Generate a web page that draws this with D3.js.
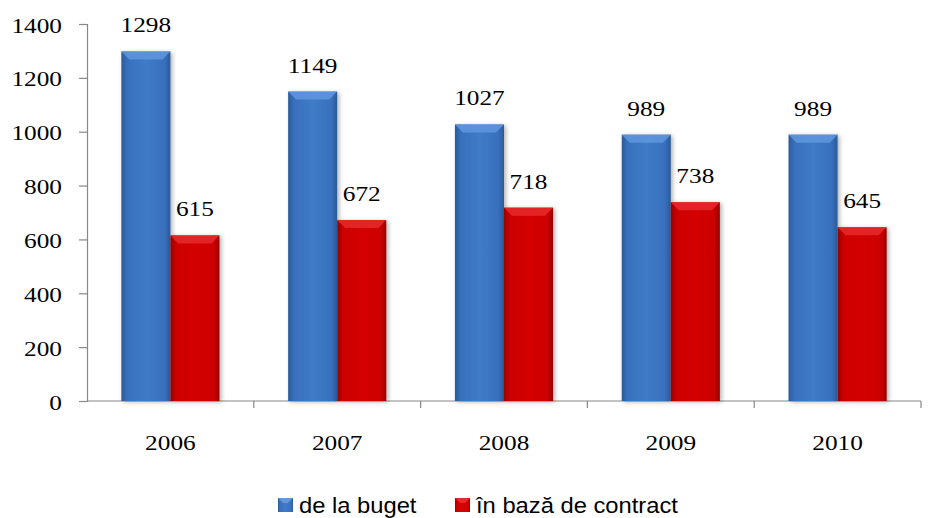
<!DOCTYPE html>
<html lang="en">
<head>
<meta charset="UTF-8">
<title>Chart</title>
<script src="https://cdn.jsdelivr.net/npm/d3@7"></script>
<style>
    body { margin: 0; background: #fff; }
</style>
</head>
<body>
<div id="chart"></div>
<script>
    // data
    const years = ['2006', '2007', '2008', '2009', '2010'];
    const series = ['de la buget', 'în bază de contract'];
    const budget = [1298, 1149, 1027, 989, 989];
    const contract = [615, 672, 718, 738, 645];
    const yTicks = [0, 200, 400, 600, 800, 1000, 1200, 1400];

    const width = 928, height = 518;
    const margin = {top: 24, right: 7, bottom: 117, left: 87};
    const serif = '"Liberation Serif", "Times New Roman", serif';
    const sans = '"Liberation Sans", Arial, sans-serif';

    const svg = d3.select('#chart').append('svg')
        .attr('width', width)
        .attr('height', height);

    const defs = svg.append('defs');
    const palettes = [
        {id: 'gBlue', dark: '#2b5a98', mid: '#3870bd', light: '#3f7bc8', top: '#5f98de'},
        {id: 'gRed', dark: '#980000', mid: '#cc0000', light: '#d40404', top: '#e62a2a'}
    ];
    palettes.forEach(p => {
        const g = defs.append('linearGradient').attr('id', p.id)
            .attr('x1', 0).attr('x2', 1).attr('y1', 0).attr('y2', 0);
        g.append('stop').attr('offset', '0%').attr('stop-color', p.dark);
        g.append('stop').attr('offset', '12%').attr('stop-color', p.mid);
        g.append('stop').attr('offset', '50%').attr('stop-color', p.light);
        g.append('stop').attr('offset', '88%').attr('stop-color', p.mid);
        g.append('stop').attr('offset', '100%').attr('stop-color', p.dark);
    });
    const shadow = defs.append('filter').attr('id', 'shadow')
        .attr('x', '-20%').attr('y', '-5%').attr('width', '140%').attr('height', '115%');
    shadow.append('feDropShadow').attr('dx', 2).attr('dy', 1).attr('stdDeviation', 2)
        .attr('flood-color', '#000').attr('flood-opacity', 0.3);

    const x0 = d3.scaleBand()
        .domain(years)
        .range([margin.left, width - margin.right])
        .paddingInner(0)
        .paddingOuter(0);

    const x1 = d3.scaleBand()
        .domain(series)
        .range([0, x0.bandwidth()])
        .paddingOuter(0.7)
        .paddingInner(0);

    const y = d3.scaleLinear()
        .domain([0, 1400])
        .range([height - margin.bottom, margin.top]);

    // the original text looks stretched a bit sideways
    const stretch = 1.15;

    // y axis
    const yAxis = svg.append('g')
        .attr('transform', `translate(${margin.left},0)`)
        .call(d3.axisLeft(y).tickValues(yTicks).tickFormat(d3.format('d')).tickSize(8));
    yAxis.attr('font-family', serif).attr('font-size', 22);
    yAxis.select('.domain').attr('stroke', '#888').attr('stroke-width', 1.2);
    yAxis.selectAll('.tick line').attr('stroke', '#888').attr('stroke-width', 1.2);
    yAxis.selectAll('.tick text')
        .attr('fill', '#000')
        .attr('x', null).attr('dy', null)
        .attr('transform', `translate(-25,8) scale(${stretch},1)`);

    // x axis with ticks at category boundaries
    const xAxis = svg.append('g')
        .attr('transform', `translate(0,${y(0)})`);
    xAxis.append('line')
        .attr('x1', margin.left).attr('x2', width - margin.right)
        .attr('stroke', '#888').attr('stroke-width', 1.2);
    xAxis.selectAll('.bound')
        .data(years.slice(1).concat(['end']))
        .join('line')
        .attr('x1', (d, i) => margin.left + x0.step() * (i + 1))
        .attr('x2', (d, i) => margin.left + x0.step() * (i + 1))
        .attr('y1', 0).attr('y2', 7)
        .attr('stroke', '#888').attr('stroke-width', 1.2);
    xAxis.selectAll('.tick')
        .data(years)
        .join('g')
        .attr('class', 'tick')
        .attr('transform', d => `translate(${x0(d) + x0.bandwidth() / 2},49) scale(${stretch},1)`)
        .append('text')
        .attr('text-anchor', 'middle')
        .attr('font-family', serif)
        .attr('font-size', 22)
        .text(d => d);

    const rows = years.map((yr, i) => ({year: yr, values: [budget[i], contract[i]]}));

    const groups = svg.append('g').selectAll('g')
        .data(rows)
        .join('g')
        .attr('transform', d => `translate(${x0(d.year)},0)`);

    const bars = groups.selectAll('g.bar')
        .data(d => d.values.map((v, k) => ({key: series[k], k: k, v: v})))
        .join('g')
        .attr('class', 'bar');

    bars.append('rect')
        .attr('x', d => x1(d.key))
        .attr('y', d => y(d.v))
        .attr('width', x1.bandwidth())
        .attr('height', d => y(0) - y(d.v))
        .attr('fill', d => `url(#${palettes[d.k].id})`)
        .attr('filter', 'url(#shadow)');

    // bevel on the top edge
    bars.append('path')
        .attr('d', d => {
            const bx = x1(d.key), bw = x1.bandwidth(), by = y(d.v), b = 8;
            return `M${bx},${by}L${bx + bw},${by}L${bx + bw - b},${by + b}L${bx + b},${by + b}Z`;
        })
        .attr('fill', d => palettes[d.k].top)
        .attr('opacity', 0.85);

    bars.append('text')
        .attr('transform', d => `translate(${x1(d.key) + x1.bandwidth() / 2},${y(d.v) - 19}) scale(${stretch},1)`)
        .attr('text-anchor', 'middle')
        .attr('font-family', serif)
        .attr('font-size', 22)
        .text(d => d.v);

    // legend
    const legend = svg.append('g');
    const legendX = [278, 455];
    series.forEach((s, i) => {
        const g = legend.append('g').attr('transform', `translate(${legendX[i]},498)`);
        g.append('rect').attr('width', 15).attr('height', 14)
            .attr('fill', `url(#${palettes[i].id})`);
        g.append('path')
            .attr('d', 'M0,0L15,0L10,5L5,5Z')
            .attr('fill', palettes[i].top);
        g.append('text')
            .attr('transform', 'translate(21,15) scale(1.08,1)')
            .attr('font-family', sans)
            .attr('font-size', 22)
            .attr('fill', '#000')
            .text(s);
    });
</script>
</body>
</html>
